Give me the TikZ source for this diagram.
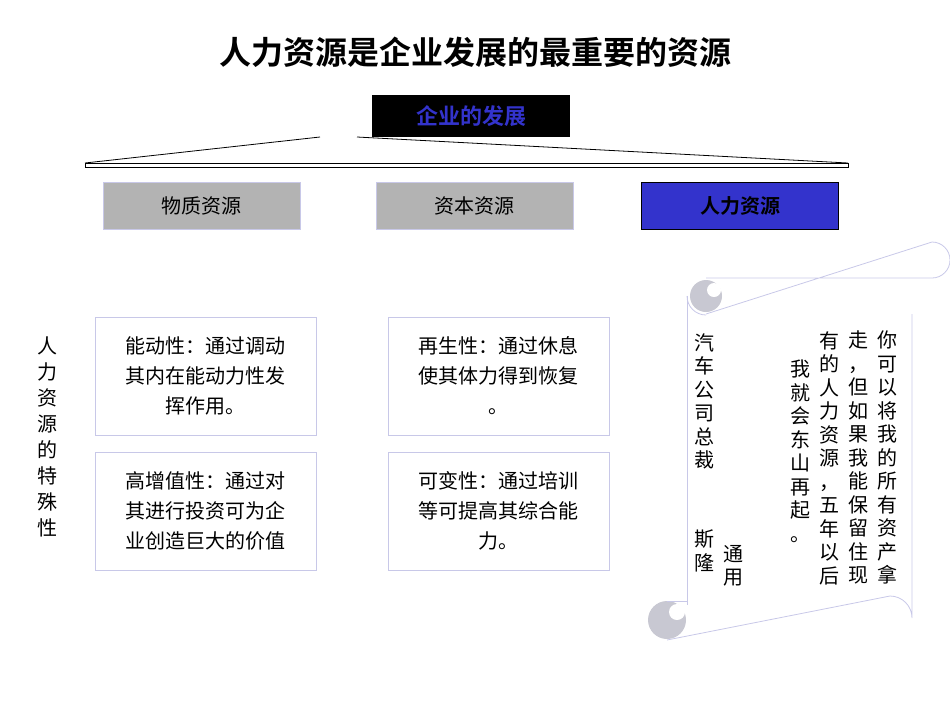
\documentclass[tikz,border=0pt]{standalone}
\usepackage{fontspec}
\setmainfont{Noto Sans CJK SC}
\newfontfamily\cjkb{Noto Sans CJK SC Bold}
\definecolor{lav}{RGB}{200,200,232}
\definecolor{gbox}{RGB}{179,179,179}
\definecolor{bbox}{RGB}{51,51,204}
\definecolor{curl}{RGB}{200,200,210}
\begin{document}
\begin{tikzpicture}[x=1pt,y=-1pt,
  txt/.style={font=\fontsize{20}{30}\selectfont},
  res/.style={draw=lav,fill=gbox,minimum width=197pt,minimum height=47pt,inner sep=0pt,txt},
  feat/.style={draw=lav,minimum width=221pt,minimum height=118pt,inner sep=0pt,align=center,font=\fontsize{20}{30}\selectfont},
  vt/.style={anchor=north,align=center,inner sep=0pt,font=\fontsize{20}{23.5}\selectfont}]
\useasboundingbox (0,0) rectangle (950,713);
\node (title) at (475,52) {\cjkb\fontsize{32}{36}\selectfont 人力资源是企业发展的最重要的资源};
\node[fill=black,minimum width=198pt,minimum height=42pt,inner sep=0pt] (top) at (471,116) {\cjkb\fontsize{22}{24}\selectfont\color{bbox}企业的发展};
\coordinate (aL) at (320,137); \coordinate (aR) at (357,137);
\coordinate (bL) at (85,163); \coordinate (bR) at (848,163);
\draw[line width=0.8pt] (bL) -- (aL) (aR) -- (bR);
\draw[line width=0.6pt] (85,163) rectangle (848,167);
\node[res] (m) at (201.5,205.5) {物质资源};
\node[res] (c) at (474.5,205.5) {资本资源};
\node[res,draw=black,fill=bbox] (h) at (740,205.5) {\cjkb 人力资源};
\node[vt,font=\fontsize{20}{26}\selectfont] (side) at (47,337) {人\\力\\资\\源\\的\\特\\殊\\性};
\node[feat] (f1) at (205.5,376) {能动性：通过调动\\其内在能动力性发\\挥作用。};
\node[feat] (f2) at (498.5,376) {再生性：通过休息\\使其体力得到恢复\\。};
\node[feat] (f3) at (205.5,511) {高增值性：通过对\\其进行投资可为企\\业创造巨大的价值};
\node[feat] (f4) at (498.5,511) {可变性：通过培训\\等可提高其综合能\\力。};
% scroll
\draw[lav,line width=0.8pt] (706,278) -- (932,278) arc[start angle=-90,end angle=90,x radius=18,y radius=-18] -- (706,314);
\draw[lav,line width=0.8pt] (687,296) -- (687,605);
\draw[lav,line width=0.8pt] (912,314) -- (912,618) arc[start angle=0,end angle=90,radius=22,y radius=-22] -- (667,640);
\fill[curl] (706,296) circle (16);
\fill[white] (714,290) circle (7);
\draw[lav,line width=0.8pt] (687,296) arc[start angle=180,end angle=270,radius=19,y radius=-19];
\fill[curl] (667,620) circle (19);
\fill[white] (677,612) circle (8);
\draw[lav,line width=0.8pt] (667,601) -- (687,601);
\node[vt] (s1) at (887,331) {你\\可\\以\\将\\我\\的\\所\\有\\资\\产\\拿};
\node[vt] (s2) at (858,331) {走\\，\\但\\如\\果\\我\\能\\保\\留\\住\\现};
\node[vt] (s3) at (829,331) {有\\的\\人\\力\\资\\源\\，\\五\\年\\以\\后};
\node[vt] (s4) at (800,360) {我\\就\\会\\东\\山\\再\\起\\。};
\node[vt] (a1) at (704,333) {汽\\车\\公\\司\\总\\裁};
\node[vt] (a2) at (704,530) {斯\\隆};
\node[vt] (a3) at (733,545) {通\\用};
\end{tikzpicture}
\end{document}
